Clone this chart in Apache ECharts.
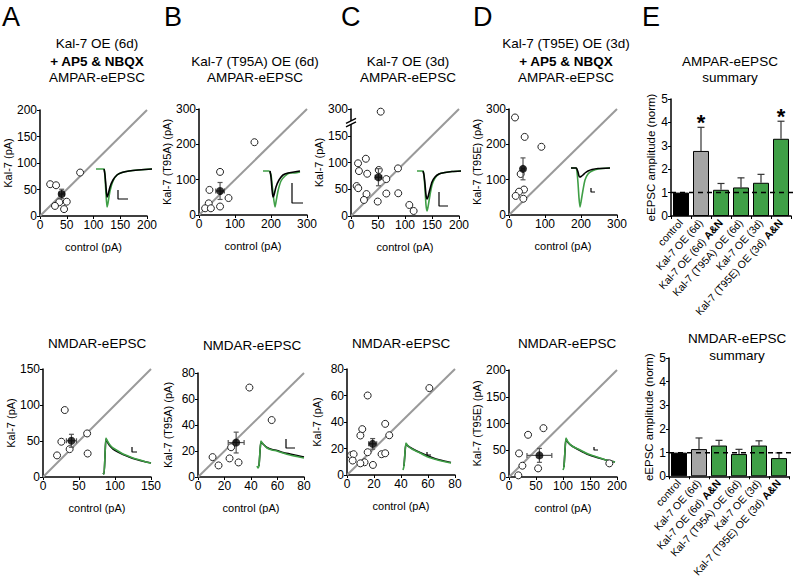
<!DOCTYPE html>
<html><head><meta charset="utf-8">
<script src="https://cdn.jsdelivr.net/npm/echarts@6/dist/echarts.min.js"></script>
<style>html,body{margin:0;padding:0;background:#fff}#c{width:802px;height:580px}</style>
</head><body><div id="c"></div>
<script>
// ---------- DATA ----------
const ampA_ctrl = [19, 30, 75, 36, 50, 28, 45];
const ampA_kal  = [60, 58, 82, 26, 27, 19, 13];
const ampA_mean = [40.5, 41.5];
const ampA_err  = [5, 9];

const ampB_ctrl = [154, 58.5, 29, 58.5, 82, 27, 17, 33];
const ampB_kal  = [206, 122, 71, 24, 48, 33, 19, 19];
const ampB_mean = [58.5, 68];
const ampB_err  = [12, 24];

const ampC_ctrl = [55, 13, 27.5, 14.7, 30, 51.4, 87, 65.4, 10.4, 13.4, 28.7, 65.4, 87.5, 24, 49.5, 108, 116];
const ampC_kal  = [295, 98.5, 107, 84, 79, 86, 89, 69, 56, 52, 41, 42, 42.5, 30, 27, 20.6, 9.4];
const ampC_mean = [50.8, 72.5];
const ampC_err  = [6, 16];

const ampD_ctrl = [16.7, 43.5, 90, 32.4, 41.7, 27.8, 18.5, 39.8];
const ampD_kal  = [276, 221, 193, 116, 72, 66, 54, 46];
const ampD_mean = [38.9, 130.6];
const ampD_err  = [5, 31];

const nmA_ctrl = [30.2, 25.5, 19.5, 37, 61.3, 62];
const nmA_kal  = [93, 49, 30, 38.7, 60.5, 32.6];
const nmA_mean = [39.5, 50.3];
const nmA_err  = [7, 9];

const nmB_ctrl = [38.8, 55.6, 11, 15.5, 23.8, 25, 30.6];
const nmB_kal  = [68.8, 43.8, 15.3, 8.9, 14.3, 22.9, 11.2];
const nmB_mean = [28.8, 26.5];
const nmB_err  = [6, 8];

const nmC_ctrl = [61, 15.3, 28.3, 11.3, 9.9, 31.3, 3, 4.9, 4.2, 15.3, 25.6, 28.3, 13, 9.9, 19.2];
const nmC_kal  = [65.6, 60, 38.6, 34.6, 29.8, 30, 14.9, 15.7, 10.9, 17.2, 15.7, 16.4, 9.6, 8.8, 7.6];
const nmC_mean = [19, 23.5];
const nmC_err  = [3, 4];

const nmD_ctrl = [63.8, 35.3, 18.6, 24.8, 53.9, 17.3, 185.8];
const nmD_kal  = [91.3, 78.9, 44.1, 21.1, 16.1, 3.1, 25.5];
const nmD_mean = [56.3, 40.4];
const nmD_err  = [23, 13];

const diagA = [[0, 0], [200, 200]];
const diagB = [[0, 0], [300, 300]];
const diagC = [[0, 0], [200, 300]];
const diagD = [[0, 0], [300, 300]];
const diagNA = [[0, 0], [150, 150]];
const diagNB = [[0, 0], [80, 80]];
const diagNC = [[0, 0], [80, 80]];
const diagND = [[0, 0], [200, 200]];
const breakC = [175, 275];
const ticksC = [0, 50, 100, 150, 300];

const trA_ctrl = [[8,0],[9,-6],[10,-18],[11,-28],[12,-26],[14,-18],[17,-11],[21,-6],[26,-3.5],[33,-2],[42,-1],[56,0]];
const trA_kal  = [[0,0],[8,0],[9,-8],[10,-25],[11,-38],[12,-34],[14,-22],[17,-12],[21,-6],[26,-3.5],[33,-2],[42,-1],[56,0]];
const sbA = [[22,-21],[22,-30],[32,-30]];
const trB_ctrl = [[7,0],[8,-6],[9,-18],[10,-26],[11,-24],[13,-16],[16,-9],[20,-4],[25,-2],[31,-1],[37,0]];
const trB_kal  = [[0,0],[6,0],[8,-4],[10,-22],[12,-36],[13,-31],[15,-20],[18,-10],[22,-5],[27,-2],[32,-2],[37,-1]];
const sbB = [[29,-12],[29,-32],[40,-32]];
const trC_ctrl = [[6,0],[7,-4],[8,-13],[9,-24],[10,-28],[11,-26],[13,-18],[15,-11],[18,-6],[22,-3],[28,-1.5],[35,-0.5],[44,0]];
const trC_kal  = [[0,0],[6,0],[7,-5],[8,-18],[9,-34],[10,-40],[11,-36],[13,-24],[15,-14],[18,-7],[22,-3],[28,-1.5],[35,-0.5],[44,0]];
const sbC = [[22,-21],[22,-35],[31,-35]];
const trD_ctrl = [[0,0],[5,0],[6,-1],[7,-4],[8,-8],[9,-9],[10,-8.5],[12,-7],[14,-5],[17,-3],[21,-1.5],[27,-0.5],[39,0]];
const trD_kal  = [[0,0],[5,0],[6,-4],[7,-15],[8,-30],[9,-39],[10,-34],[12,-22],[14,-12],[17,-6],[21,-3],[27,-1],[39,0]];
const sbD = [[20,-20],[20,-24],[24,-24]];
const trNA_ctrl = [[3,0],[4,-1],[5,17],[6,34],[8,30],[10,27],[13,24],[18,21],[23,18.5],[28,16.5],[33,14.5],[40,12.5],[46,11],[51,10]];
const trNA_kal  = [[3,0],[4,-1],[5,18],[6,35],[8,31],[10,28],[13,25],[18,22],[23,19],[28,17],[33,15],[40,13],[46,11],[51,10]];
const sbNA = [[32,26],[32,21],[37,21]];
const trNB_ctrl = [[4,0],[5,14],[6,24],[8,22],[12,18.5],[17,16.5],[22,15.5],[28,13.5],[35,12],[42,10.5],[49,9]];
const trNB_kal  = [[2,0],[3,-2],[4,0],[5,15],[6,25],[8,22],[12,18],[17,16],[22,15],[28,13],[35,11],[42,9.5],[49,8]];
const sbNB = [[31,27],[31,18],[40,18]];
const trNC_ctrl = [[4,4],[5,17],[6,26],[8,24],[12,21.5],[20,17.5],[28,14],[36,11],[44,9],[51,7.5]];
const trNC_kal  = [[3,0],[4,4],[5,18],[6,27],[8,24],[12,21],[20,17],[28,13],[36,10.5],[44,8.5],[51,7]];
const sbNC = [[27,18],[27,15],[31,15]];
const trND_ctrl = [[4,3],[5,19],[6,31],[8,27.5],[12,24],[20,19.5],[28,15.5],[37,12.5],[46,10],[55,8]];
const trND_kal  = [[3,0],[4,3],[5,20],[6,32],[8,28],[12,24],[20,20],[28,16],[37,13],[46,10],[55,8]];
const sbND = [[34,23],[34,20],[38,20]];

const catsE = ['control', 'Kal-7 OE (6d)', 'Kal-7 OE (6d) A&N', 'Kal-7 (T95A) OE (6d)', 'Kal-7 OE (3d)', 'Kal-7 (T95E) OE (3d) A&N'];
const ampE_vals = [1, 2.78, 1.12, 1.22, 1.42, 3.3];
const ampE_errs = [0, 1.01, 0.27, 0.41, 0.36, 0.75];
const ampE_sig  = ['', '*', '', '', '', '*'];
const nmE_vals  = [1, 1.15, 1.3, 0.94, 1.3, 0.77];
const nmE_errs  = [0, 0.47, 0.22, 0.2, 0.2, 0.22];
const nmE_sig   = ['', '', '', '', '', ''];
const refLevel = [[0, 1], [6.55, 1]];

const FONT = '"Liberation Sans", Arial, Helvetica, sans-serif';
const GREEN = '#3f9f46';
const GRAYBAR = '#a5a5a5';
const barColors = ['#000000', GRAYBAR, GREEN, GREEN, GREEN, GREEN];

const option = { animation: false, backgroundColor: '#fff', grid: [], xAxis: [], yAxis: [], series: [], graphic: [] };

function axisCommon() {
  return {
    axisLine: { show: true, onZero: false, lineStyle: { color: '#000', width: 1.5 } },
    axisTick: { show: true, length: 3, lineStyle: { color: '#000', width: 1 } },
    axisLabel: { fontSize: 12, color: '#000', fontFamily: FONT, margin: 3, showMinLabel: true, showMaxLabel: true, hideOverlap: false },
    splitLine: { show: false },
    nameTextStyle: { fontSize: 11, color: '#000', fontFamily: FONT }
  };
}

function meanErrRender(params, api) {
  const x = api.value(0), y = api.value(1), ex = api.value(2), ey = api.value(3);
  const l = api.coord([x - ex, y]), r = api.coord([x + ex, y]);
  const t = api.coord([x, y + ey]), b = api.coord([x, y - ey]);
  const st = { stroke: '#555', lineWidth: 1.2 };
  const cap = 2.5;
  return { type: 'group', children: [
    { type: 'line', shape: { x1: l[0], y1: l[1], x2: r[0], y2: r[1] }, style: st },
    { type: 'line', shape: { x1: t[0], y1: t[1], x2: b[0], y2: b[1] }, style: st },
    { type: 'line', shape: { x1: t[0] - cap, y1: t[1], x2: t[0] + cap, y2: t[1] }, style: st },
    { type: 'line', shape: { x1: b[0] - cap, y1: b[1], x2: b[0] + cap, y2: b[1] }, style: st },
    { type: 'line', shape: { x1: l[0], y1: l[1] - cap, x2: l[0], y2: l[1] + cap }, style: st },
    { type: 'line', shape: { x1: r[0], y1: r[1] - cap, x2: r[0], y2: r[1] + cap }, style: st }
  ]};
}

function newGrid(box) {
  option.grid.push({ left: box[0], top: box[1], width: box[2], height: box[3], containLabel: false });
  return option.grid.length - 1;
}

function addScatter(p) {
  const g = newGrid(p.box);
  const xa = Object.assign(axisCommon(), { gridIndex: g, type: 'value', min: 0, max: p.xMax, interval: p.xInt,
    name: 'control (pA)', nameLocation: 'middle', nameGap: 25 });
  const ya = Object.assign(axisCommon(), { gridIndex: g, type: 'value', min: 0, max: p.yMax, interval: p.yInt,
    name: p.yName, nameLocation: 'middle', nameGap: 25 });
  if (p.brk) {
    ya.breaks = [{ start: p.brk[0], end: p.brk[1], gap: 0 }];
    ya.breakArea = { show: false };
    ya.axisLabel.customValues = p.ticks;
    ya.axisTick.customValues = p.ticks;
  }
  option.xAxis.push(xa); const xi = option.xAxis.length - 1;
  option.yAxis.push(ya); const yi = option.yAxis.length - 1;
  const ax = { xAxisIndex: xi, yAxisIndex: yi };
  option.series.push(Object.assign({ type: 'line', data: p.diag, showSymbol: false, silent: true,
    lineStyle: { color: '#9a9a9a', width: 2 }, z: 1 }, ax));
  option.series.push(Object.assign({ type: 'scatter', data: p.ctrl.map((v, i) => [v, p.kal[i]]),
    symbol: 'circle', symbolSize: 7, itemStyle: { color: '#fff', borderColor: '#222', borderWidth: 1, opacity: 1 }, z: 4 }, ax));
  option.series.push(Object.assign({ type: 'custom', renderItem: meanErrRender,
    data: [[p.mean[0], p.mean[1], p.err[0], p.err[1]]], z: 5 }, ax));
  option.series.push(Object.assign({ type: 'scatter', data: [p.mean], symbol: 'circle', symbolSize: 8,
    itemStyle: { color: '#000' }, z: 6 }, ax));
  if (p.brk) {
    option.series.push(Object.assign({ type: 'custom', clip: false, z: 7,
      data: [[0, p.brk[0]]],
      renderItem: function (params, api) {
        const c = api.coord([api.value(0), api.value(1)]);
        const st = { stroke: '#000', lineWidth: 1.3 };
        return { type: 'group', children: [
          { type: 'polygon', shape: { points: [[c[0] - 5, c[1] + 1], [c[0] + 5, c[1] - 4], [c[0] + 5, c[1] - 0.5], [c[0] - 5, c[1] + 4.5]] }, style: { fill: '#fff' } },
          { type: 'line', shape: { x1: c[0] - 5, y1: c[1] + 1, x2: c[0] + 5, y2: c[1] - 4 }, style: st },
          { type: 'line', shape: { x1: c[0] - 5, y1: c[1] + 4.5, x2: c[0] + 5, y2: c[1] - 0.5 }, style: st }
        ]};
      } }, ax));
  }
}

function addInset(p, bottomRow) {
  const g = newGrid(p.box);
  option.xAxis.push({ gridIndex: g, type: 'value', min: p.xr[0], max: p.xr[1], show: false }); const xi = option.xAxis.length - 1;
  option.yAxis.push({ gridIndex: g, type: 'value', min: p.yr[0], max: p.yr[1], show: false }); const yi = option.yAxis.length - 1;
  const ax = { xAxisIndex: xi, yAxisIndex: yi };
  option.series.push(Object.assign({ type: 'line', data: p.kal, showSymbol: false, silent: true, smooth: 0.2,
    lineStyle: { color: GREEN, width: 1.6 }, z: bottomRow ? 3 : 2 }, ax));
  option.series.push(Object.assign({ type: 'line', data: p.ctrl, showSymbol: false, silent: true, smooth: 0.2,
    lineStyle: { color: '#000', width: 1.6 }, z: bottomRow ? 2 : 3 }, ax));
  option.series.push(Object.assign({ type: 'line', data: p.bar, showSymbol: false, silent: true,
    lineStyle: { color: '#000', width: 1.2 }, z: 3 }, ax));
}

function addBars(p) {
  const g = newGrid(p.box);
  const xa = Object.assign(axisCommon(), { gridIndex: g, type: 'category', data: catsE });
  xa.axisLabel = { interval: 0, rotate: 48, fontSize: 10.5, color: '#000', fontFamily: FONT, margin: 5,
    formatter: v => v.endsWith(' A&N') ? v.slice(0, -4) + ' {b|A&N}' : v,
    rich: { b: { fontWeight: 'bold', fontSize: 10.5, fontFamily: FONT, color: '#000' } } };
  xa.axisTick = { show: true, length: 3, lineStyle: { color: '#000' } };
  option.xAxis.push(xa); const xi = option.xAxis.length - 1;
  const ya = Object.assign(axisCommon(), { gridIndex: g, type: 'value', min: 0, max: 5, interval: 1,
    name: 'eEPSC amplitude (norm)', nameLocation: 'middle', nameGap: 14 });
  ya.nameTextStyle.fontSize = 11.5;
  option.yAxis.push(ya); const yi = option.yAxis.length - 1;
  option.xAxis.push({ gridIndex: g, type: 'value', min: 0, max: 6, show: false }); const xi2 = option.xAxis.length - 1;
  option.series.push({ type: 'bar', xAxisIndex: xi, yAxisIndex: yi, barWidth: 16,
    data: p.vals.map((v, i) => ({ value: v, itemStyle: { color: barColors[i], borderColor: '#000', borderWidth: 1 } })), z: 2 });
  const sig = p.sig;
  option.series.push({ type: 'custom', xAxisIndex: xi, yAxisIndex: yi, clip: false, z: 4,
    data: p.vals.map((v, i) => [i, v, p.errs[i]]),
    renderItem: function (params, api) {
      const i = api.value(0), v = api.value(1), e = api.value(2);
      const b = api.coord([i, v]), t = api.coord([i, v + e]);
      const st = { stroke: '#333', lineWidth: 1.2 };
      const ch = [];
      if (e > 0) {
        ch.push({ type: 'line', shape: { x1: b[0], y1: b[1], x2: t[0], y2: t[1] }, style: st });
        ch.push({ type: 'line', shape: { x1: t[0] - 3.5, y1: t[1], x2: t[0] + 3.5, y2: t[1] }, style: st });
      }
      const s = sig[params.dataIndex];
      if (s) ch.push({ type: 'text', x: t[0], y: t[1] + 6, style: { text: s, fontSize: 22, fontWeight: 'bold',
        fontFamily: FONT, fill: '#000', align: 'center', verticalAlign: 'bottom' } });
      return { type: 'group', children: ch };
    } });
  option.series.push({ type: 'line', xAxisIndex: xi2, yAxisIndex: yi, data: refLevel, clip: false, showSymbol: false, silent: true,
    lineStyle: { color: '#000', width: 1.5, type: [5, 4] }, z: 5 });
}

addScatter({ box: [40, 110, 107, 106], xMax: 200, xInt: 50, yMax: 200, yInt: 50, yName: 'Kal-7 (pA)', ctrl: ampA_ctrl, kal: ampA_kal, mean: ampA_mean, err: ampA_err, diag: diagA });
addScatter({ box: [199, 109, 108, 106], xMax: 300, xInt: 100, yMax: 300, yInt: 100, yName: 'Kal-7 (T95A) (pA)', ctrl: ampB_ctrl, kal: ampB_kal, mean: ampB_mean, err: ampB_err, diag: diagB });
addScatter({ box: [351, 109, 108, 107], xMax: 200, xInt: 50, yMax: 300, yInt: 50, yName: 'Kal-7 (pA)', ctrl: ampC_ctrl, kal: ampC_kal, mean: ampC_mean, err: ampC_err, diag: diagC, brk: breakC, ticks: ticksC });
addScatter({ box: [509, 109, 108, 106], xMax: 300, xInt: 100, yMax: 300, yInt: 100, yName: 'Kal-7 (T95E) (pA)', ctrl: ampD_ctrl, kal: ampD_kal, mean: ampD_mean, err: ampD_err, diag: diagD });
addScatter({ box: [43, 369, 108, 108], xMax: 150, xInt: 50, yMax: 150, yInt: 50, yName: 'Kal-7 (pA)', ctrl: nmA_ctrl, kal: nmA_kal, mean: nmA_mean, err: nmA_err, diag: diagNA });
addScatter({ box: [198, 373, 106, 104], xMax: 80, xInt: 20, yMax: 80, yInt: 20, yName: 'Kal-7 (T95A) (pA)', ctrl: nmB_ctrl, kal: nmB_kal, mean: nmB_mean, err: nmB_err, diag: diagNB });
addScatter({ box: [347, 369, 108, 106], xMax: 80, xInt: 20, yMax: 80, yInt: 20, yName: 'Kal-7 (pA)', ctrl: nmC_ctrl, kal: nmC_kal, mean: nmC_mean, err: nmC_err, diag: diagNC });
addScatter({ box: [509, 370, 108, 107], xMax: 200, xInt: 50, yMax: 200, yInt: 50, yName: 'Kal-7 (T95E) (pA)', ctrl: nmD_ctrl, kal: nmD_kal, mean: nmD_mean, err: nmD_err, diag: diagND });

addInset({ box: [96, 160, 56, 50], xr: [0, 56], yr: [-41, 9], ctrl: trA_ctrl, kal: trA_kal, bar: sbA }, false);
addInset({ box: [263, 160, 40, 50], xr: [0, 40], yr: [-39, 11], ctrl: trB_ctrl, kal: trB_kal, bar: sbB }, false);
addInset({ box: [417, 160, 46, 55], xr: [0, 46], yr: [-44, 11], ctrl: trC_ctrl, kal: trC_kal, bar: sbC }, false);
addInset({ box: [571, 160, 40, 50], xr: [0, 40], yr: [-42, 8], ctrl: trD_ctrl, kal: trD_kal, bar: sbD }, false);
addInset({ box: [100, 430, 52, 50], xr: [0, 52], yr: [-7, 43], ctrl: trNA_ctrl, kal: trNA_kal, bar: sbNA }, true);
addInset({ box: [255, 430, 52, 50], xr: [0, 52], yr: [-14, 36], ctrl: trNB_ctrl, kal: trNB_kal, bar: sbNB }, true);
addInset({ box: [400, 430, 55, 45], xr: [0, 55], yr: [-5, 40], ctrl: trNC_ctrl, kal: trNC_kal, bar: sbNC }, true);
addInset({ box: [560, 430, 58, 45], xr: [0, 58], yr: [-5, 40], ctrl: trND_ctrl, kal: trND_kal, bar: sbND }, true);

addBars({ box: [671, 99, 120, 117], vals: ampE_vals, errs: ampE_errs, sig: ampE_sig });
addBars({ box: [669, 358, 120, 119], vals: nmE_vals, errs: nmE_errs, sig: nmE_sig });

function txt(x, y, s, size, bold, align) {
  option.graphic.push({ type: 'text', x: x, y: y, silent: true,
    style: { text: s, fontSize: size, fontWeight: bold ? 'bold' : 'normal', fontFamily: FONT, fill: '#000',
      align: align || 'center', verticalAlign: 'middle' } });
}
[['A', 2], ['B', 164], ['C', 341], ['D', 473], ['E', 642]].forEach(([s, x]) => txt(x, 17, s, 27, false, 'left'));
txt(97, 43, 'Kal-7 OE (6d)', 13.5); txt(97, 61, '+ AP5 & NBQX', 13.5, true); txt(97, 77, 'AMPAR-eEPSC', 13.5);
txt(255, 61, 'Kal-7 (T95A) OE (6d)', 13.5); txt(255, 77, 'AMPAR-eEPSC', 13.5);
txt(408, 61, 'Kal-7 OE (3d)', 13.5); txt(408, 77, 'AMPAR-eEPSC', 13.5);
txt(566, 43, 'Kal-7 (T95E) OE (3d)', 13.5); txt(566, 61, '+ AP5 & NBQX', 13.5, true); txt(566, 77, 'AMPAR-eEPSC', 13.5);
txt(730, 61, 'AMPAR-eEPSC', 13.5); txt(730, 77, 'summary', 13.5);
txt(97, 343, 'NMDAR-eEPSC', 13.5); txt(252, 345, 'NMDAR-eEPSC', 13.5); txt(401, 343, 'NMDAR-eEPSC', 13.5); txt(567, 343, 'NMDAR-eEPSC', 13.5);
txt(737, 338, 'NMDAR-eEPSC', 13.5); txt(737, 355, 'summary', 13.5);

const chart = echarts.init(document.getElementById('c'), null, { renderer: 'svg' });
chart.setOption(option);
</script></body></html>
